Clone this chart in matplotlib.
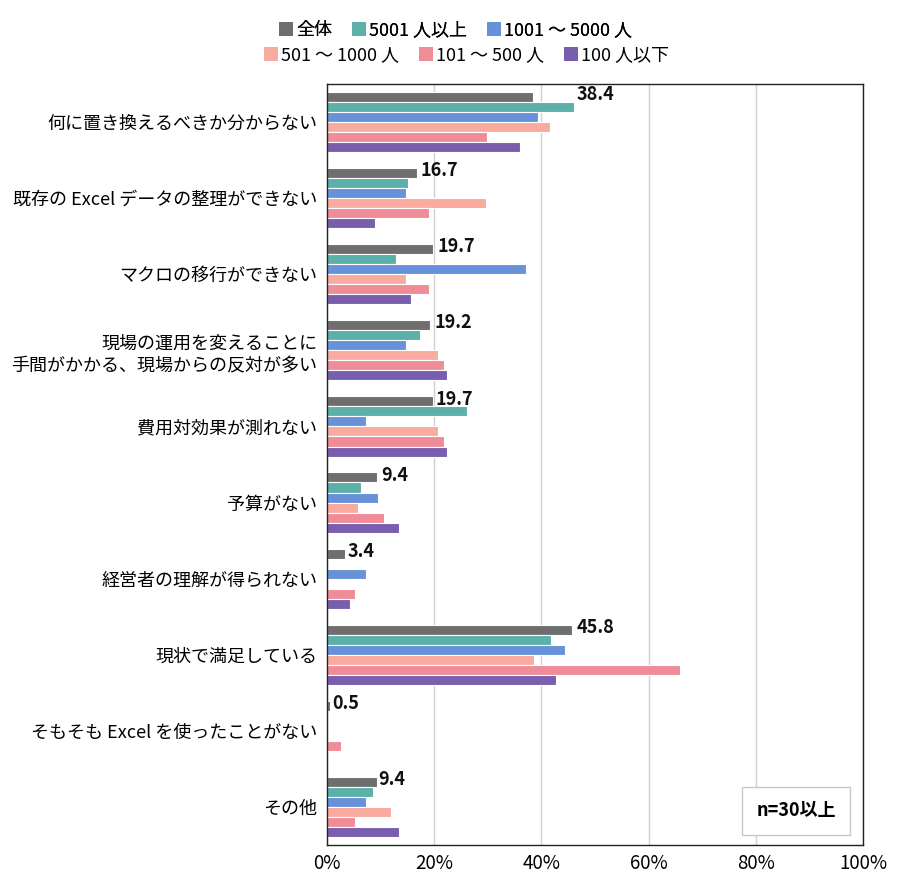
import matplotlib
matplotlib.use("Agg")
import matplotlib.pyplot as plt
from matplotlib.patches import Patch
import numpy as np

plt.rcParams['font.family'] = ['Noto Sans CJK JP', 'DejaVu Sans']

categories = [
    "何に置き換えるべきか分からない",
    "既存の Excel データの整理ができない",
    "マクロの移行ができない",
    "現場の運用を変えることに\n手間がかかる、現場からの反対が多い",
    "費用対効果が測れない",
    "予算がない",
    "経営者の理解が得られない",
    "現状で満足している",
    "そもそも Excel を使ったことがない",
    "その他",
]
series_names = ["全体", "5001 人以上", "1001 ～ 5000 人", "501 ～ 1000 人", "101 ～ 500 人", "100 人以下"]

zentai   = [38.4, 16.7, 19.7, 19.2, 19.7, 9.4, 3.4, 45.8, 0.5, 9.4]
s5001    = [46.0, 15.2, 12.9, 17.4, 26.2, 6.4, 0.0, 41.7, 0.0, 8.6]
s1001    = [39.4, 14.7, 37.1, 14.7, 7.3, 9.6, 7.3, 44.4, 0.0, 7.3]
s501     = [41.6, 29.7, 14.7, 20.8, 20.8, 5.8, 0.0, 38.6, 0.0, 11.9]
s101     = [29.9, 19.0, 19.0, 21.8, 21.8, 10.6, 5.3, 65.8, 2.6, 5.3]
s100     = [36.0, 8.9, 15.7, 22.4, 22.4, 13.4, 4.3, 42.7, 0.0, 13.4]
tick_labels = ["0%", "20%", "40%", "60%", "80%", "100%"]

series = [zentai, s5001, s1001, s501, s101, s100]
colors = ["#6e6e6e", "#5bb0a9", "#6792d9", "#f9aba0", "#ef8c98", "#7a5eae"]
label_dx = [8.2, 0.7, 0.9, 0.9, 0.5, 0.7, 0.5, 0.7, 0.5, 0.2]

fig = plt.figure(figsize=(9, 8.96), dpi=100)
ax = fig.add_axes([327/900, 1-845/896, (863-327)/900, (845-84)/896])

n = len(categories)
y = np.arange(n)
h = 0.132
for i, (vals, c) in enumerate(zip(series, colors)):
    offs = (i - 2.5) * h
    vals = np.asarray(vals, dtype=float)
    nz = vals > 0
    ax.barh((y + offs)[nz], vals[nz], height=h, color=c, edgecolor='white', linewidth=0.8, zorder=3)

for j, v in enumerate(zentai):
    ax.text(v + label_dx[j], y[j] - 2.5*h - 0.03, f"{v:.1f}", va='center', ha='left',
            fontsize=13, fontweight='bold', color='#111111', zorder=4)

ax.set_xlim(0, 100)
ax.set_ylim(n - 0.5, -0.5)
ax.set_xticks(np.arange(0, 101, 20))
ax.set_xticklabels(tick_labels, fontsize=13.5)
ax.set_yticks(y)
ax.set_yticklabels(categories, fontsize=13, linespacing=1.35)
ax.tick_params(axis='both', length=0, pad=6)
ax.tick_params(axis='y', pad=7)
ax.grid(axis='x', color='#d0d0d0', linewidth=1, zorder=0)
for s in ax.spines.values():
    s.set_color('#222222')
    s.set_linewidth(1.0)
    s.set_zorder(6)

ax.text(0.875, 0.045, "n=30以上", transform=ax.transAxes, ha='center', va='center',
        fontsize=13, fontweight='bold', zorder=5,
        bbox=dict(boxstyle='square,pad=0.8', facecolor='white', edgecolor='#c8c8c8', linewidth=1))

handles = [Patch(facecolor=c, edgecolor='none') for c in colors]
leg1 = fig.legend(handles[:3], series_names[:3], loc='center', bbox_to_anchor=(0.506, 0.9665),
                  ncol=3, frameon=False, fontsize=13, handlelength=0.8, handleheight=0.8,
                  handletextpad=0.15, columnspacing=1.1, borderaxespad=0)
fig.add_artist(leg1)
leg2 = fig.legend(handles[3:], series_names[3:], loc='center', bbox_to_anchor=(0.518, 0.9386),
                  ncol=3, frameon=False, fontsize=13, handlelength=0.8, handleheight=0.8,
                  handletextpad=0.15, columnspacing=1.1, borderaxespad=0)

fig.savefig("out.png", dpi=100, facecolor='white')
